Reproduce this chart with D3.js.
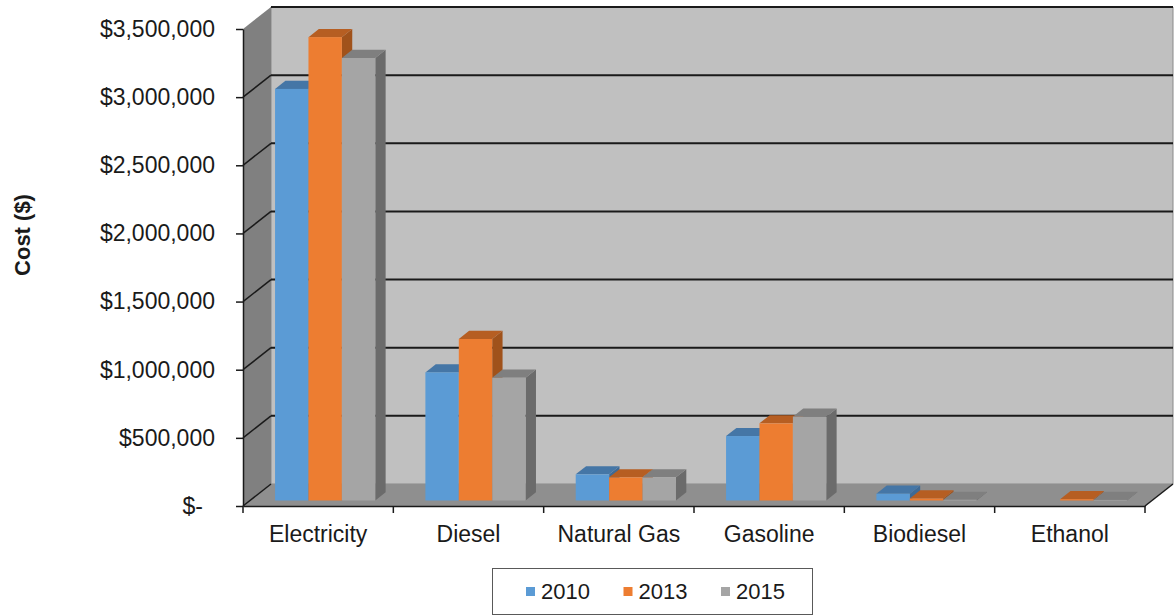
<!DOCTYPE html>
<html>
<head>
<meta charset="utf-8">
<script src="https://cdn.jsdelivr.net/npm/d3@7/dist/d3.min.js"></script>
<style>
  html, body { margin: 0; padding: 0; background: #fff; }
  svg { display: block; font-family: "Liberation Sans", Arial, sans-serif; }
</style>
</head>
<body>
<svg id="chart" width="1175" height="615"></svg>
<script>
const categories = ["Electricity", "Diesel", "Natural Gas", "Gasoline", "Biodiesel", "Ethanol"];
const seriesNames = ["2010", "2013", "2015"];
const values2010 = [3020000, 940000, 192000, 473000, 50000, 0];
const values2013 = [3400000, 1185000, 170000, 566000, 15000, 10000];
const values2015 = [3247000, 901000, 170000, 615000, 5000, 4000];
const tickValues = [0, 500000, 1000000, 1500000, 2000000, 2500000, 3000000, 3500000];
const tickLabels = ["$-", "$500,000", "$1,000,000", "$1,500,000", "$2,000,000", "$2,500,000", "$3,000,000", "$3,500,000"];
const yTitle = "Cost ($)";

const frontColors = ["#5B9BD5", "#ED7D31", "#A5A5A5"];
const topColors = ["#4576A6", "#B65E22", "#7F7F7F"];
const sideColors = ["#3E6A96", "#A0521B", "#6B6B6B"];

const series = [values2010, values2013, values2015];

const svg = d3.select("#chart");

// geometry
const x0 = 243, x1 = 1145;          // front floor extents
const DX = 28, DY = -22;             // depth offset of back wall
const y = d3.scaleLinear().domain([0, 3500000]).range([506, 29]);
const x = d3.scaleBand().domain(categories).range([x0, x1]).paddingInner(0).paddingOuter(0);
const xs = d3.scaleBand().domain(seriesNames).range([0, x.bandwidth() * 2 / 3]);

const yTop = y(3500000), yBot = y(0);

// back wall
svg.append("polygon")
  .attr("points", [[x0 + DX, yTop + DY], [x1 + DX, yTop + DY], [x1 + DX, yBot + DY], [x0 + DX, yBot + DY]].join(" "))
  .attr("fill", "#C0C0C0").attr("stroke", "#8a8a8a").attr("stroke-width", 1);

// side wall
svg.append("polygon")
  .attr("points", [[x0, yTop], [x0 + DX, yTop + DY], [x0 + DX, yBot + DY], [x0, yBot]].join(" "))
  .attr("fill", "#808080");

// floor
svg.append("polygon")
  .attr("points", [[x0, yBot], [x0 + DX, yBot + DY], [x1 + DX, yBot + DY], [x1, yBot]].join(" "))
  .attr("fill", "#8F8F8F");

// gridlines (back wall + side wall)
const grid = svg.append("g");
tickValues.forEach(v => {
  if (v > 0) {
    grid.append("line")
      .attr("x1", x0 + DX).attr("x2", x1 + DX)
      .attr("y1", y(v) + DY).attr("y2", y(v) + DY)
      .attr("stroke", "#1a1a1a").attr("stroke-width", 2);
    if (v < 3500000) {
      grid.append("line")
        .attr("x1", x0).attr("y1", y(v))
        .attr("x2", x0 + DX).attr("y2", y(v) + DY)
        .attr("stroke", "#1a1a1a").attr("stroke-width", 1.5);
    }
  }
});
// floor edges
svg.append("line").attr("x1", x0).attr("y1", yBot).attr("x2", x0 + DX).attr("y2", yBot + DY)
  .attr("stroke", "#1a1a1a").attr("stroke-width", 1.5);
svg.append("line").attr("x1", x1).attr("y1", yBot).attr("x2", x1 + DX).attr("y2", yBot + DY)
  .attr("stroke", "#1a1a1a").attr("stroke-width", 1.5);

// bars
const tF = 0.25, tB = 0.62;
const bars = svg.append("g");
categories.forEach((c, i) => {
  series.forEach((vals, j) => {
    const v = vals[i];
    if (!v) return;
    const bx = x(c) + x.bandwidth() / 6 + xs(seriesNames[j]) + DX * tF;
    const bw = xs.bandwidth();
    const by0 = y(0) + DY * tF;
    const by1 = y(v) + DY * tF;
    const ddx = DX * (tB - tF), ddy = DY * (tB - tF);
    // side face
    bars.append("polygon")
      .attr("points", [[bx + bw, by1], [bx + bw + ddx, by1 + ddy], [bx + bw + ddx, by0 + ddy], [bx + bw, by0]].join(" "))
      .attr("fill", sideColors[j]);
    // top face
    bars.append("polygon")
      .attr("points", [[bx, by1], [bx + ddx, by1 + ddy], [bx + bw + ddx, by1 + ddy], [bx + bw, by1]].join(" "))
      .attr("fill", topColors[j]);
    // front face
    bars.append("rect")
      .attr("x", bx).attr("y", by1).attr("width", bw).attr("height", Math.max(0, by0 - by1))
      .attr("fill", frontColors[j]);
  });
});

// y axis
const yAxis = d3.axisLeft(y).tickValues(tickValues).tickSize(7).tickSizeOuter(0)
  .tickFormat((d, i) => tickLabels[i]);
const yg = svg.append("g").attr("transform", `translate(${x0},0)`).call(yAxis);
yg.select(".domain").attr("stroke", "#1a1a1a").attr("stroke-width", 1.5);
yg.selectAll(".tick line").attr("stroke", "#1a1a1a").attr("stroke-width", 1.5);
yg.selectAll(".tick text")
  .attr("font-size", 23).attr("fill", "#1a1a1a")
  .attr("font-family", "'Liberation Sans', Arial, sans-serif")
  .attr("x", d => d === 0 ? -40 : -28);

// x axis
const xAxis = d3.axisBottom(x).tickSize(0).tickSizeOuter(0);
const xg = svg.append("g").attr("transform", `translate(0,${yBot})`).call(xAxis);
xg.select(".domain").attr("stroke", "#1a1a1a").attr("stroke-width", 1.5);
xg.selectAll(".tick text")
  .attr("font-size", 23).attr("fill", "#1a1a1a")
  .attr("font-family", "'Liberation Sans', Arial, sans-serif")
  .attr("y", 20);
// category boundary ticks
const bounds = categories.map(c => x(c)).concat([x1]);
xg.selectAll(".bound").data(bounds).enter().append("line")
  .attr("x1", d => d).attr("x2", d => d).attr("y1", 0).attr("y2", 7)
  .attr("stroke", "#1a1a1a").attr("stroke-width", 1.5);

// y title
svg.append("text")
  .attr("transform", "translate(30,235) rotate(-90)")
  .attr("text-anchor", "middle")
  .attr("font-size", 22).attr("font-weight", "bold").attr("fill", "#1a1a1a")
  .text(yTitle);

// legend
const lg = svg.append("g");
lg.append("rect").attr("x", 492.5).attr("y", 568.5).attr("width", 320).attr("height", 46)
  .attr("fill", "#fff").attr("stroke", "#595959").attr("stroke-width", 1);
const legX = d3.scalePoint().domain(seriesNames).range([526, 721]);
seriesNames.forEach((s, j) => {
  lg.append("rect").attr("x", legX(s)).attr("y", 587).attr("width", 9).attr("height", 9)
    .attr("fill", frontColors[j]);
  lg.append("text").attr("x", legX(s) + 15).attr("y", 599)
    .attr("font-size", 22).attr("fill", "#1a1a1a").text(s);
});
</script>
</body>
</html>
